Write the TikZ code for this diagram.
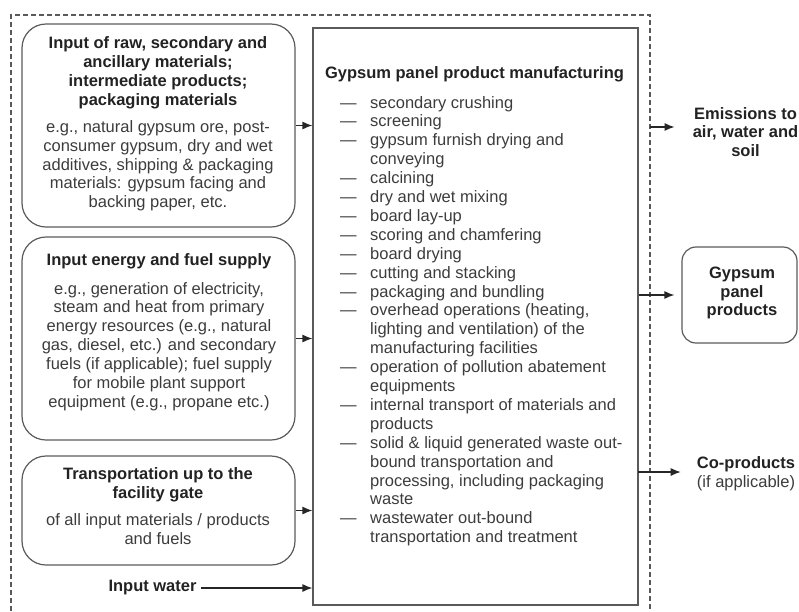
\documentclass[tikz,border=0pt]{standalone}
\usepackage{fontspec}
\setmainfont{Liberation Sans}
\usetikzlibrary{arrows.meta}

\definecolor{boxline}{HTML}{5A5A5A}
\definecolor{titletext}{HTML}{222222}
\definecolor{bodytext}{HTML}{3C3C3C}
\newcommand\diagsize{\fontsize{16.5}{18.9}\selectfont}
\newcommand\boxtitle[1]{\textcolor{titletext}{\bfseries #1}}

\begin{document}
\begin{tikzpicture}[x=1pt,y=-1pt,
		inbox/.style={draw=boxline,line width=1.2pt,rounded corners=24pt,minimum width=273pt,inner sep=0pt},
		outbox/.style={draw=boxline,line width=1.2pt,rounded corners=14pt,minimum width=115pt,minimum height=96pt,inner sep=0pt},
		boxtext/.style={align=center,font=\diagsize,text=bodytext,inner sep=0pt},
		flow/.style={-{Latex[length=10pt,width=8pt]},line width=1.2pt,color=black!85},
		boundary/.style={dashed,dash pattern=on 5pt off 3pt,line width=1.8pt,color=black!65}]
		\useasboundingbox (0,0) rectangle (799,611);
		
		% system boundary
		\draw[boundary] (11,611) -- (11,15) -- (650,15) -- (650,611);
		
		% manufacturing box
		\node[draw=boxline,line width=1.2pt,minimum width=325pt,minimum height=577pt,inner sep=0pt] (mfg) at (475.5,316.5) {};
		\node[boxtext] (mfgtitle) at (474.5,74) {\boxtitle{Gypsum panel product manufacturing}};
		\node[boxtext,anchor=base west,align=left] (mfgsteps) at (340,108) {\begin{tabular}[t]{@{}p{30pt}@{}l@{}}
			--- & secondary crushing\\
			--- & screening\\
			--- & gypsum furnish drying and\\
			    & conveying\\
			--- & calcining\\
			--- & dry and wet mixing\\
			--- & board lay-up\\
			--- & scoring and chamfering\\
			--- & board drying\\
			--- & cutting and stacking\\
			--- & packaging and bundling\\
			--- & overhead operations (heating,\\
			    & lighting and ventilation) of the\\
			    & manufacturing facilities\\
			--- & operation of pollution abatement\\
			    & equipments\\
			--- & internal transport of materials and\\
			    & products\\
			--- & solid \& liquid generated waste out-\\
			    & bound transportation and\\
			    & processing, including packaging\\
			    & waste\\
			--- & wastewater out-bound\\
			    & transportation and treatment
		\end{tabular}};
		
		% input boxes
		\node[inbox,minimum height=203pt] (raw) at (158.5,125.5) {};
		\node[boxtext] (rawtext) at (158,124) {\boxtitle{Input of raw, secondary and}\\\boxtitle{ancillary materials;}\\\boxtitle{intermediate products;}\\\boxtitle{packaging materials}\\[8pt]
			e.g., natural gypsum ore, post-\\consumer gypsum, dry and wet\\additives, shipping \& packaging\\materials: gypsum facing and\\backing paper, etc.};
		
		\node[inbox,minimum height=203pt] (energy) at (158.5,338.5) {};
		\node[boxtext] (energytext) at (159,332) {\boxtitle{Input energy and fuel supply}\\[10pt]
			e.g., generation of electricity,\\steam and heat from primary\\energy resources (e.g., natural\\gas, diesel, etc.) and secondary\\fuels (if applicable); fuel supply\\for mobile plant support\\equipment (e.g., propane etc.)};
		
		\node[inbox,minimum height=109pt] (transport) at (158.5,510.5) {};
		\node[boxtext] (transporttext) at (158,506) {\boxtitle{Transportation up to the}\\\boxtitle{facility gate}\\[8pt]
			of all input materials / products\\and fuels};
		
		\node[boxtext,inner sep=4pt] (water) at (152.5,588) {\boxtitle{Input water}};
		
		% inputs to manufacturing
		\draw[flow] (raw.east) -- (raw.east -| mfg.west);
		\draw[flow] (energy.east) -- (energy.east -| mfg.west);
		\draw[flow] (transport.east) -- (transport.east -| mfg.west);
		\draw[flow] (water.east) -- (water.east -| mfg.west);
		
		% outputs
		\node[boxtext] (emissions) at (745.5,132) {\boxtitle{Emissions to}\\\boxtitle{air, water and}\\\boxtitle{soil}};
		\node[outbox] (panel) at (739.5,295) {};
		\node[boxtext] (paneltext) at (742,293) {\boxtitle{Gypsum}\\\boxtitle{panel}\\\boxtitle{products}};
		\node[boxtext] (coproducts) at (746,474) {\boxtitle{Co-products}\\(if applicable)};
		
		\coordinate (emisout) at (650,127);
		\coordinate (coout) at (638,472);
		\draw[flow,shorten >=18pt] (emisout) -- (emisout -| emissions.west);
		\draw[flow,shorten >=7pt] (mfg.east |- panel.west) -- (panel.west);
		\draw[flow,shorten >=16pt] (coout) -- (coout -| coproducts.west);
	\end{tikzpicture}
\end{document}
